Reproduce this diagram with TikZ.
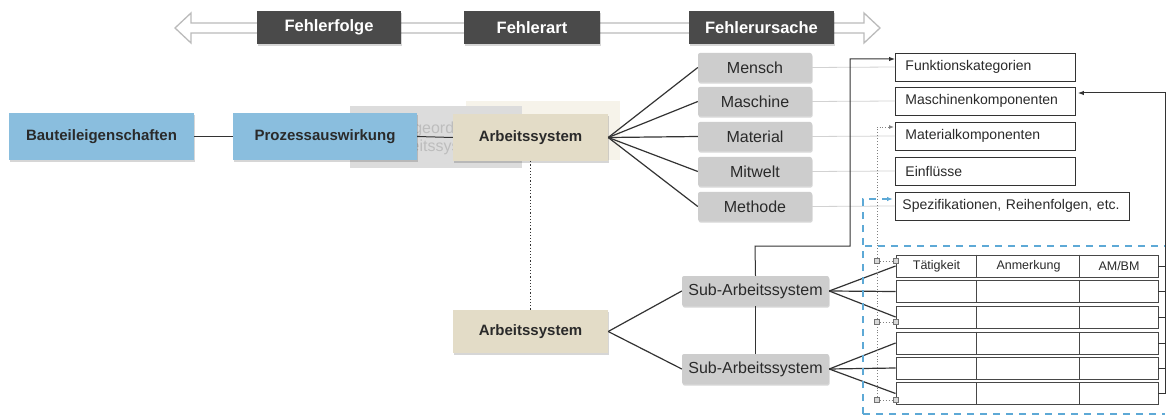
\documentclass[tikz,border=0pt]{standalone}
\usepackage{fontspec}
\setmainfont{Liberation Sans}
\usetikzlibrary{arrows.meta,shadows}
\definecolor{topgray}{HTML}{4A4A4A}
\definecolor{bblue}{HTML}{8ABEDE}
\definecolor{beige}{HTML}{E3DCC7}
\definecolor{bgray}{HTML}{CDCDCD}
\definecolor{ghostgray}{HTML}{DCDCDC}
\definecolor{ghostbeige}{HTML}{F6F3EA}
\definecolor{txt}{HTML}{2A2A2A}
\definecolor{ln}{HTML}{333333}
\definecolor{lightln}{HTML}{D2D2D2}
\definecolor{dashblue}{HTML}{5DA9D6}
\definecolor{ghosttxt}{HTML}{BDBDBD}
\definecolor{arrowgray}{HTML}{BBBBBB}
\tikzset{
 shad/.style={general shadow={fill=black,opacity=0.16,shadow xshift=0.6pt,shadow yshift=-1.6pt}},
 topbox/.style={fill=topgray,text=white,minimum height=33,inner sep=0,font=\fontsize{16.5}{19}\selectfont\bfseries,shad},
 bluebox/.style={fill=bblue,text=txt,minimum height=47,inner sep=0,font=\fontsize{15}{18}\selectfont\bfseries,shad},
 beigebox/.style={fill=beige,text=txt,minimum width=155,inner sep=0,font=\fontsize{15}{18}\selectfont\bfseries,shad},
 graybox/.style={fill=bgray,text=txt,rounded corners=2pt,minimum width=114,minimum height=29,inner sep=0,font=\fontsize{16}{19}\selectfont,shad},
 subbox/.style={fill=bgray,text=txt,rounded corners=2pt,minimum width=147,minimum height=30,inner sep=0,font=\fontsize{16}{19}\selectfont,shad},
 rbox/.style={draw=ln,line width=0.9pt,fill=white,text=txt,anchor=west,minimum height=28,inner ysep=0,inner xsep=10,align=left,font=\fontsize{14}{17}\selectfont},
 rowbox/.style={draw=ln!90,line width=0.9pt,fill=white,minimum width=262,minimum height=22,inner sep=0},
 hdr/.style={text=txt,inner sep=0,font=\fontsize{12.5}{15}\selectfont},
 fan/.style={draw=ln,line width=1.2pt},
 conn/.style={draw=ln,line width=1pt},
 thinln/.style={draw=lightln,line width=0.8pt},
 arr/.style={-{Latex[length=6pt,width=4.5pt]}},
 dotln/.style={draw=gray,line width=0.9pt,dotted},
 bdash/.style={draw=dashblue,line width=1.2pt,dash pattern=on 7pt off 6pt},
 sq/.style={draw=gray!90!black,fill=gray!30,line width=0.8pt,minimum size=5,inner sep=0},
}
\begin{document}
\begin{tikzpicture}[x=1pt,y=-1pt]
\useasboundingbox (0,0) rectangle (1168,417);
\fill[white] (0,0) rectangle (1168,417);

% top double arrow
\draw[arrowgray,line width=1.3pt,fill=white,line join=miter]
 (175,28) -- (191,13) -- (191,23) -- (864,23) -- (864,13) -- (880,28) -- (864,43) -- (864,33) -- (191,33) -- (191,43) -- cycle;
\node[topbox,minimum width=144] (fo) at (329,27.5) {Fehlerfolge};
\node[topbox,minimum width=136] (fa) at (532,27.5) {Fehlerart};
\node[topbox,minimum width=145] (fu) at (761.5,27.5) {Fehlerursache};

% ghost boxes
\node[fill=ghostbeige,minimum width=154,minimum height=59,inner sep=0] (gb) at (543,130.5) {};
\node[fill=ghostgray,minimum width=172,minimum height=62,inner sep=0,text=ghosttxt,align=center,font=\fontsize{16}{18}\selectfont] (gg) at (436,137) {Übergeordnetes\\Arbeitssystem};

% left chain
\node[bluebox,minimum width=185] (bau) at (101.5,136.5) {Bauteileigenschaften};
\node[bluebox,minimum width=184] (pro) at (325,136.5) {Prozessauswirkung};
\node[beigebox,minimum height=47] (as1) at (530.5,137.5) {Arbeitssystem};
\draw[conn] (bau.east) -- (pro.west);
\draw[conn] (pro.east) -- (as1.west);

% gray boxes
\node[graybox] (me) at (755,67.5) {Mensch};
\node[graybox] (ma) at (755,101.5) {Maschine};
\node[graybox] (mt) at (755,136.5) {Material};
\node[graybox] (mw) at (755,171.5) {Mitwelt};
\node[graybox] (mo) at (755,206.5) {Methode};

% right boxes
\node[rbox,text width=160] (fk) at (895,67) {Funktionskategorien};
\node[rbox,text width=160] (mk) at (895,101) {Maschinenkomponenten};
\node[rbox,text width=160] (mc) at (895,136) {Materialkomponenten};
\node[rbox,text width=160] (ei) at (895,171) {Einflüsse};
\node[rbox,text width=220,inner xsep=7] (sp) at (895,206) {Spezifikationen, Reihenfolgen, etc.};

\foreach \a/\b in {me/fk,ma/mk,mt/mc,mw/ei,mo/sp}{
  \draw[thinln] (\a.east) -- (\b.west);
  \draw[fan] (as1.east) -- (\a.west);
}

% lower part
\node[beigebox,minimum height=43] (as2) at (530.5,331.5) {Arbeitssystem};
\draw[draw=ln,line width=1.2pt,dotted] (as1.south) -- (as2.north);
\node[subbox] (s1) at (755.5,291) {Sub-Arbeitssystem};
\node[subbox] (s2) at (755.5,369) {Sub-Arbeitssystem};
\draw[fan] (as2.east) -- (s1.west);
\draw[fan] (as2.east) -- (s2.west);
\draw[conn] (s1.south) -- (s2.north);

% table rows
\foreach \i/\y in {1/266,2/291.5,3/317,4/343,5/368,6/393.5}{
  \node[rowbox] (r\i) at (1027,\y) {};
  \draw[draw=ln!90,line width=0.9pt] ([xshift=81pt]r\i.north west) -- ([xshift=81pt]r\i.south west);
  \draw[draw=ln!90,line width=0.9pt] ([xshift=184pt]r\i.north west) -- ([xshift=184pt]r\i.south west);
  \coordinate (q\i) at (1165,\y);
  \draw[conn] (r\i.east) -- (q\i);
}
\node[hdr] (h1) at (936.5,266) {Tätigkeit};
\node[hdr] (h2) at (1028.5,266) {Anmerkung};
\node[hdr] (h3) at (1119,266) {AM/BM};

\foreach \i in {1,2,3}{\draw[fan] (s1.east) -- (r\i.west);}
\foreach \i in {4,5,6}{\draw[fan] (s2.east) -- (r\i.west);}

% right bracket arrow to Maschinenkomponenten
\coordinate (rt) at (1165,93);
\draw[conn,arr] (q6) -- (rt) -- ([xshift=2pt]mk.east |- rt);

% solid connector sub1 -> Funktionskategorien
\coordinate (k1) at (755,246);
\coordinate (k2) at (850,246);
\coordinate (k3) at (850,59);
\draw[conn,arr] (s1.north) -- (k1) -- (k2) -- (k3) -- (fk.west |- k3);

% blue dashed
\coordinate (b1) at (863,414);
\coordinate (b2) at (863,199);
\coordinate (b3) at (1165,414);
\coordinate (b4) at (865,246);
\coordinate (b5) at (1165,246);
\draw[bdash] (b4) -- (b5);
\draw[bdash] (b1) -- (b3);
\draw[bdash,arr] (b1) -- (b2) -- ([xshift=-2pt]sp.west |- b2);

% gray dotted
\coordinate (d1) at (877,400);
\coordinate (d2) at (877,127);
\draw[dotln,-{Latex[length=5pt,width=4pt]}] (d1) -- (d2) -- ([xshift=-1pt]mc.west |- d2);
\foreach \i/\y in {1/261,2/322,3/400}{
  \node[sq] (sa\i) at (877,\y) {};
  \node[sq] (sb\i) at (896,\y) {};
  \draw[dotln] (sa\i) -- (sb\i);
}
\end{tikzpicture}
\end{document}
